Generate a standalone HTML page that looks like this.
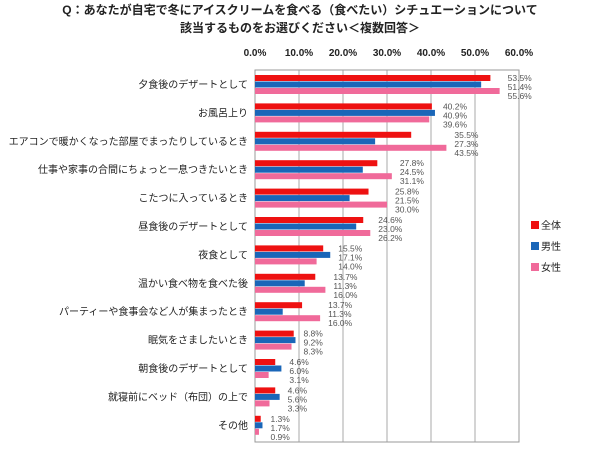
<!DOCTYPE html>
<html><head><meta charset="utf-8"><style>
body{margin:0;background:#fff;}
svg{display:block;font-family:"Liberation Sans","Noto Sans CJK JP",sans-serif;}
</style></head><body>
<svg id="c" width="600" height="453"></svg>
<script>
const categories=["夕食後のデザートとして","お風呂上り","エアコンで暖かくなった部屋でまったりしているとき","仕事や家事の合間にちょっと一息つきたいとき","こたつに入っているとき","昼食後のデザートとして","夜食として","温かい食べ物を食べた後","パーティーや食事会など人が集まったとき","眠気をさましたいとき","朝食後のデザートとして","就寝前にベッド（布団）の上で","その他"];
const seriesNames=["全体","男性","女性"];
const allValues=[53.5,40.2,35.5,27.8,25.8,24.6,15.5,13.7,10.7,8.8,4.6,4.6,1.3];
const maleValues=[51.4,40.9,27.3,24.5,21.5,23.0,17.1,11.3,6.3,9.2,6.0,5.6,1.7];
const femaleValues=[55.6,39.6,43.5,31.1,30.0,26.2,14.0,16.0,14.8,8.3,3.1,3.3,0.9];
const allLabels=["53.5%","40.2%","35.5%","27.8%","25.8%","24.6%","15.5%","13.7%","13.7%","8.8%","4.6%","4.6%","1.3%"];
const maleLabels=["51.4%","40.9%","27.3%","24.5%","21.5%","23.0%","17.1%","11.3%","11.3%","9.2%","6.0%","5.6%","1.7%"];
const femaleLabels=["55.6%","39.6%","43.5%","31.1%","30.0%","26.2%","14.0%","16.0%","16.0%","8.3%","3.1%","3.3%","0.9%"];
const ticks=[0,10,20,30,40,50,60];
const tickLabels=["0.0%","10.0%","20.0%","30.0%","40.0%","50.0%","60.0%"];

const NS="http://www.w3.org/2000/svg";
const svg=document.getElementById('c');
const X0=255,X1=519,TOP=70,BOT=442,G0=78,GS=28.4,BH=6,BS=6.5;
const x=v=>X0+(X1-X0)*v/60;
const gy=i=>G0+i*GS;
function mk(t,a,txt){const e=document.createElementNS(NS,t);for(const k in a)e.setAttribute(k,a[k]);if(txt!==undefined)e.textContent=txt;svg.appendChild(e);return e;}

let e;
e=mk('text',{x:300,y:14,'text-anchor':'middle','font-size':12,'font-weight':'bold',fill:'#222'},'Q：あなたが自宅で冬にアイスクリームを食べる（食べたい）シチュエーションについて');


e=mk('text',{x:300,y:32,'text-anchor':'middle','font-size':12,'font-weight':'bold',fill:'#222'},'該当するものをお選びください＜複数回答＞');



ticks.forEach((t,i)=>{
  e=mk('line',{x1:x(t),x2:x(t),y1:TOP,y2:BOT,stroke:i==0?'#888':'#aaa','stroke-width':1});
  
  
  e=mk('text',{x:x(t),y:56,'text-anchor':'middle','font-size':10,'font-weight':'bold',fill:'#222'},tickLabels[i]);
  
  
});
e=mk('rect',{x:X0,y:TOP,width:X1-X0,height:BOT-TOP,fill:'none',stroke:'#999'});



const colors=['#ee1111','#1a66b8','#f06a9a'];
const sets=[allValues,maleValues,femaleValues];
const labs=[allLabels,maleLabels,femaleLabels];
categories.forEach((c,i)=>{
  const y=gy(i);
  e=mk('text',{x:248,y:y+10,'text-anchor':'end','font-size':10,fill:'#222'},c);
  
  
  const mx=Math.max(allValues[i],maleValues[i],femaleValues[i]);
  sets.forEach((s,j)=>{
    e=mk('rect',{x:X0,y:y-BH/2+j*BS,width:x(s[i])-X0,height:BH,fill:colors[j]});
    
    
    e=mk('text',{x:x(mx)+8,y:y+3+j*9,'font-size':8.5,fill:'#555'},labs[j][i]);
    
    
  });
});

seriesNames.forEach((n,j)=>{
  const y=226+j*21;
  e=mk('rect',{x:531,y:y-5,width:8,height:8,fill:colors[j]});
  
  
  e=mk('text',{x:541,y:y+3,'font-size':10,fill:'#222'},n);
  
  
});
</script>
</body></html>
